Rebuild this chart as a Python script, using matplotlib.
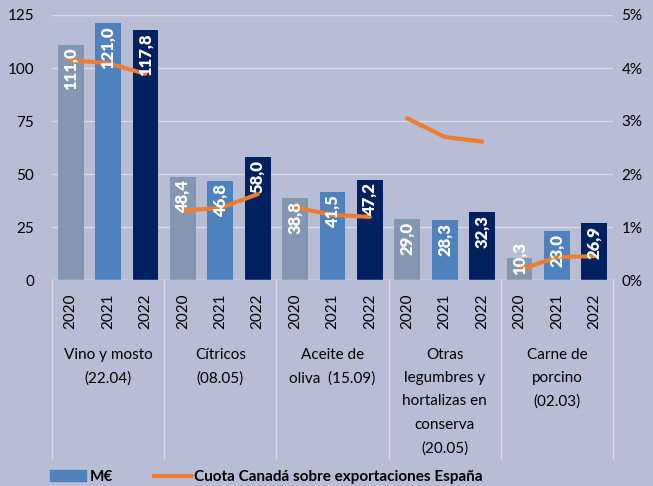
import numpy as np
import matplotlib.pyplot as plt
from matplotlib.lines import Line2D
from matplotlib.patches import Patch

# data
categories = ["Vino y mosto\n(22.04)", "Cítricos\n(08.05)", "Aceite de\noliva  (15.09)",
              "Otras\nlegumbres y\nhortalizas en\nconserva\n(20.05)", "Carne de\nporcino\n(02.03)"]
years = ["2020", "2021", "2022"]
val_2020 = [111.0, 48.4, 38.8, 29.0, 10.3]
val_2021 = [121.0, 46.8, 41.5, 28.3, 23.0]
val_2022 = [117.8, 58.0, 47.2, 32.3, 26.9]
cuota = [[4.15, 4.09, 3.89],
         [1.31, 1.36, 1.62],
         [1.37, 1.23, 1.19],
         [3.05, 2.70, 2.61],
         [0.19, 0.43, 0.45]]

BG = "#B8BDD6"
GRID = "#DADBE4"
colors = ["#8497B0", "#4F81BD", "#002060"]
ORANGE = "#ED7D31"

fig = plt.figure(figsize=(6.53, 4.86), dpi=100, facecolor=BG)
ax = fig.add_axes([52/653, 1-280/486, 561/653, 265/486])
ax.set_facecolor(BG)
ax2 = ax.twinx()

series = [val_2020, val_2021, val_2022]
offsets = [1/6, 1/2, 5/6]
bw = 0.23
for s, vals in enumerate(series):
    xs = np.arange(len(categories)) + offsets[s]
    ax.bar(xs, vals, width=bw, color=colors[s], zorder=2)

for i, seg in enumerate(cuota):
    xs = i + np.array(offsets)
    ax2.plot(xs, seg, color=ORANGE, lw=3, solid_capstyle="round", zorder=2)

ax.set_xlim(0, len(categories))
ax.set_ylim(0, 125)
ax.set_yticks([0, 25, 50, 75, 100, 125])
ax2.set_ylim(0, 5)
ax2.set_yticks([0, 1, 2, 3, 4, 5])
ax2.set_yticklabels([f"{t}%" for t in range(6)])

# value labels on top of the orange line
for s, vals in enumerate(series):
    xs = np.arange(len(categories)) + offsets[s]
    for x, v in zip(xs, vals):
        lab = f"{v:.1f}".replace(".", ",")
        if v > 18:
            y, va = v - 1.5, "top"
        else:
            y, va = 2.5, "bottom"
        ax2.text(x, y, lab, transform=ax.transData, rotation=90, ha="center", va=va,
                 color="white", fontsize=12, fontweight="heavy", family="Lato", zorder=5)

ax.yaxis.grid(True, color=GRID, lw=1, zorder=0)
ax.set_axisbelow(True)
ax.set_xticks([])
for a in (ax, ax2):
    for sp in a.spines.values():
        sp.set_visible(False)
    a.tick_params(axis="y", length=0, labelsize=11, labelcolor="black")
    for t in a.get_yticklabels():
        t.set_family("Lato")
ax.tick_params(axis="y", pad=13)
ax2.tick_params(axis="y", pad=6)
ax.axhline(0, color=GRID, lw=1, zorder=3)

# category separators and labels below the axis
trans = ax.get_xaxis_transform()
for b in range(len(categories) + 1):
    ax.add_line(Line2D([b, b], [0, -0.675], transform=trans, color=GRID, lw=1, clip_on=False))
for i, cat in enumerate(categories):
    for s in range(3):
        ax.text(i + offsets[s], -0.05, years[s], transform=trans, rotation=90,
                ha="center", va="top", fontsize=11, family="Lato")
    ax.text(i + 0.5, -0.255, cat, transform=trans, ha="center", va="top",
            fontsize=11, family="Lato", linespacing=1.85)

handles = [Patch(color=colors[1]), Line2D([0], [0], color=ORANGE, lw=3)]
fig.legend(handles, ["M€", "Cuota Canadá sobre exportaciones España"], loc="center left",
           bbox_to_anchor=(42/653, 1-477/486), ncol=2, frameon=False,
           prop={"family": "Lato", "weight": "bold", "size": 11},
           handlelength=2.4, handletextpad=0.2, columnspacing=2.7, borderpad=0)

fig.savefig("out.png", dpi=100, facecolor=BG)
